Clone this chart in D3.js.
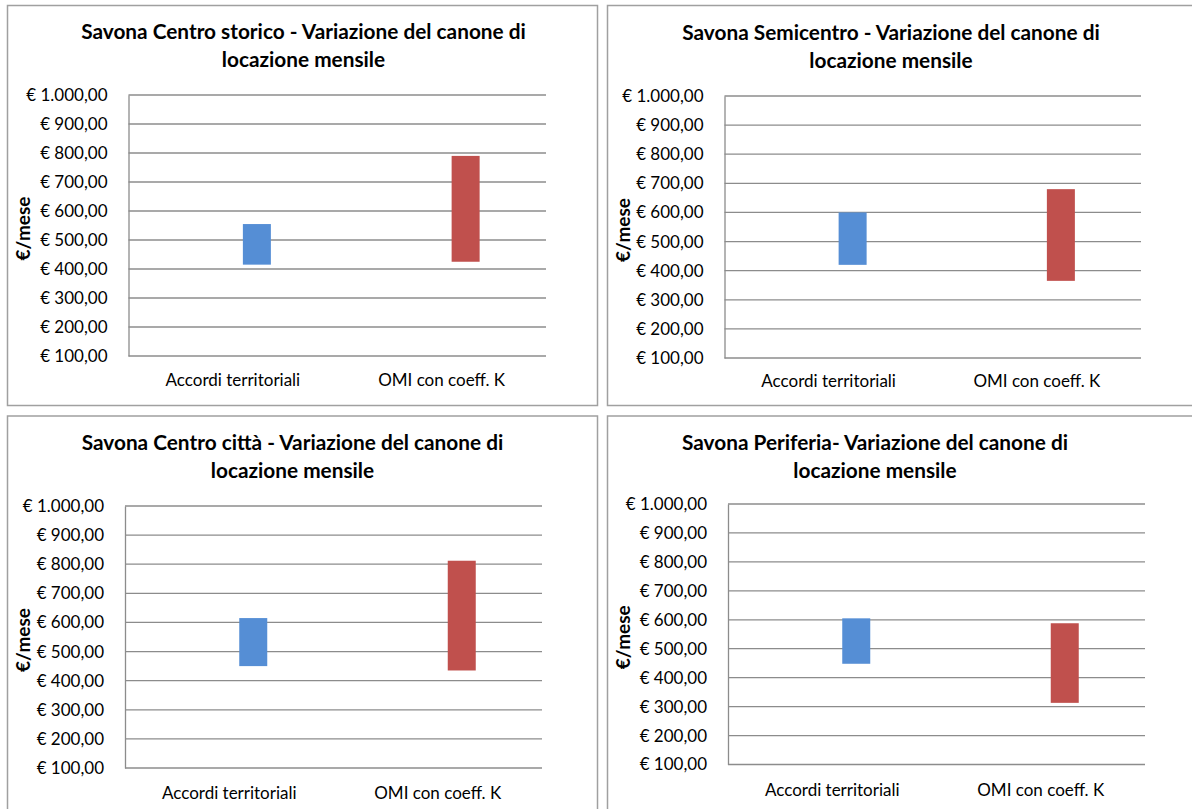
<!DOCTYPE html>
<html>
<head>
<meta charset="utf-8">
<script src="https://cdn.jsdelivr.net/npm/d3@7"></script>
<style>
  html, body { margin: 0; padding: 0; background: #ffffff; }
  svg { display: block; }
  text { font-family: Lato, "Liberation Sans", sans-serif; fill: #000; }
</style>
</head>
<body>
<svg id="chart" width="1192" height="809"></svg>
<script>
// Zones of Savona, one panel each
const zones = ["Savona Centro storico", "Savona Semicentro", "Savona Centro città", "Savona Periferia"];
const titleLine1 = [
  "Savona Centro storico - Variazione del canone di",
  "Savona Semicentro - Variazione del canone di",
  "Savona Centro città - Variazione del canone di",
  "Savona Periferia- Variazione del canone di"
];
const titleLine2 = "locazione mensile";
const categories = ["Accordi territoriali", "OMI con coeff. K"];
const yTicks = [100, 200, 300, 400, 500, 600, 700, 800, 900, 1000];
const yLabel = "€/mese";

// Monthly rent range (min / max, €) per zone
const accordiMin = [415, 420, 450, 448];
const accordiMax = [555, 600, 615, 605];
const omiMin = [425, 365, 435, 313];
const omiMax = [790, 680, 812, 588];

const seriesColors = ["#558ED5", "#C0504D"];

// Panel layout (frame, plot area, title centre)
const layout = [
  { fx: 7.5, fy: 5.5, fw: 590, fh: 400, px0: 128.5, px1: 546, py0: 95, py1: 356, tx: 303.5, ty: 39, catY: 386 },
  { fx: 607.5, fy: 5.5, fw: 620, fh: 400, px0: 724.5, px1: 1141, py0: 96, py1: 358, tx: 891, ty: 39.5, catY: 387 },
  { fx: 7.5, fy: 416, fw: 590, fh: 420, px0: 125, px1: 542, py0: 506, py1: 768, tx: 292.5, ty: 450, catY: 799 },
  { fx: 607.5, fy: 416, fw: 620, fh: 420, px0: 728, px1: 1145, py0: 504, py1: 764.5, tx: 875, ty: 450, catY: 796 }
];

const it = d3.formatLocale({ decimal: ",", thousands: ".", grouping: [3], currency: ["€ ", ""] });
const euro = it.format("$,.2f");

const svg = d3.select("#chart");

zones.forEach((zone, i) => {
  const L = layout[i];
  const g = svg.append("g").attr("class", "panel");

  // chart frame
  g.append("rect")
    .attr("x", L.fx).attr("y", L.fy)
    .attr("width", L.fw).attr("height", L.fh)
    .attr("fill", "#fff")
    .attr("stroke", "#a0a0a0").attr("stroke-width", 1.5);

  // title
  const title = g.append("text")
    .attr("x", L.tx).attr("y", L.ty)
    .attr("text-anchor", "middle")
    .attr("font-weight", "bold")
    .attr("font-size", 20.8);
  title.append("tspan").attr("x", L.tx).text(titleLine1[i]);
  title.append("tspan").attr("x", L.tx).attr("dy", 28).text(titleLine2);

  const x = d3.scaleBand().domain(categories).range([L.px0, L.px1]);
  const y = d3.scaleLinear().domain([100, 1000]).range([L.py1, L.py0]);

  // horizontal gridlines
  g.append("g")
    .selectAll("line")
    .data(yTicks)
    .join("line")
    .attr("x1", L.px0).attr("x2", L.px1)
    .attr("y1", d => y(d)).attr("y2", d => y(d))
    .attr("stroke", "#8c8c8c").attr("stroke-width", 1.3);

  // y axis line and labels
  const yAxis = d3.axisLeft(y).tickValues(yTicks).tickFormat(euro).tickSize(0).tickPadding(21);
  const ya = g.append("g").attr("transform", `translate(${L.px0},0)`).call(yAxis);
  ya.select(".domain").attr("stroke", "#8c8c8c").attr("stroke-width", 1.3);
  ya.selectAll("text").attr("font-size", 17).attr("font-family", "Lato, sans-serif").attr("fill", "#000");

  // x axis category labels
  const xAxis = d3.axisBottom(x).tickSize(0).tickPadding(0);
  const xa = g.append("g").attr("transform", `translate(0,${L.catY})`).call(xAxis);
  xa.select(".domain").remove();
  xa.selectAll("text").attr("dy", 0).attr("font-size", 17).attr("font-family", "Lato, sans-serif").attr("fill", "#000");

  // y axis title
  const ymid = (L.py0 + L.py1) / 2 + 3;
  g.append("text")
    .attr("transform", `translate(${L.fx + 22},${ymid}) rotate(-90)`)
    .attr("text-anchor", "middle")
    .attr("font-weight", "bold")
    .attr("font-size", 19)
    .text(yLabel);

  // floating range bars
  const ranges = [
    { cat: categories[0], lo: accordiMin[i], hi: accordiMax[i], color: seriesColors[0] },
    { cat: categories[1], lo: omiMin[i], hi: omiMax[i], color: seriesColors[1] }
  ];
  const barW = 28, barShift = 10;
  g.append("g")
    .selectAll("rect")
    .data(ranges)
    .join("rect")
    .attr("x", d => x(d.cat) + x.bandwidth() / 2 + barShift)
    .attr("width", barW)
    .attr("y", d => y(d.hi))
    .attr("height", d => y(d.lo) - y(d.hi))
    .attr("fill", d => d.color);
});
</script>
</body>
</html>
